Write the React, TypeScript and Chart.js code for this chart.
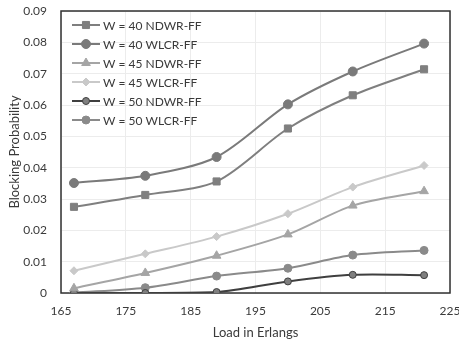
import React, { useEffect, useRef } from "react";
import { Chart, registerables } from "chart.js";
import { drawPoint } from "chart.js/helpers";

Chart.register(...registerables);

const loads = [167, 178, 189, 200, 210, 221];
const w40Ndwr = [0.0275, 0.0313, 0.0356, 0.0525, 0.0631, 0.0714];
const w40Wlcr = [0.0351, 0.0374, 0.0434, 0.0602, 0.0707, 0.0796];
const w45Ndwr = [0.0015, 0.0064, 0.0119, 0.0187, 0.0279, 0.0325];
const w45Wlcr = [0.0071, 0.0125, 0.018, 0.0253, 0.0338, 0.0407];
const w50Ndwr = [0.0, 0.0, 0.0003, 0.0037, 0.0058, 0.0057];
const w50Wlcr = [0.0001, 0.0017, 0.0054, 0.0079, 0.0121, 0.0136];
const seriesLabels = [
  "W = 40 NDWR-FF",
  "W = 40 WLCR-FF",
  "W = 45 NDWR-FF",
  "W = 45 WLCR-FF",
  "W = 50 NDWR-FF",
  "W = 50 WLCR-FF",
];
const xTitle = "Load in Erlangs";
const yTitle = "Blocking Probability";

const FONT = "Lato, 'Open Sans', sans-serif";
const TEXT = "#3a3a3a";

const legendPlugin = {
  id: "innerLegend",
  afterDraw(chart: any) {
    const { ctx, chartArea } = chart;
    ctx.save();
    chart.data.datasets.forEach((ds: any, i: number) => {
      const y = chartArea.top + 14 + i * 19;
      const x1 = chartArea.left + 11;
      const x2 = chartArea.left + 39;
      ctx.strokeStyle = ds.borderColor;
      ctx.lineWidth = ds.borderWidth;
      ctx.beginPath();
      ctx.moveTo(x1, y);
      ctx.lineTo(x2, y);
      ctx.stroke();
      ctx.fillStyle = ds.pointBackgroundColor;
      ctx.strokeStyle = ds.pointBorderColor;
      ctx.lineWidth = 1;
      drawPoint(ctx, { pointStyle: ds.pointStyle, rotation: 0, radius: ds.pointRadius, borderWidth: 1 }, (x1 + x2) / 2, y);
      ctx.fillStyle = TEXT;
      ctx.font = `12px ${FONT}`;
      ctx.textBaseline = "middle";
      ctx.textAlign = "left";
      ctx.fillText(ds.label, x2 + 3, y + 1);
    });
    ctx.restore();
  },
};

const framePlugin = {
  id: "frame",
  beforeDatasetsDraw(chart: any) {
    const { ctx, chartArea } = chart;
    ctx.save();
    ctx.strokeStyle = "#303030";
    ctx.lineWidth = 1.5;
    ctx.strokeRect(chartArea.left, chartArea.top, chartArea.right - chartArea.left, chartArea.bottom - chartArea.top);
    ctx.restore();
  },
};

export default function App() {
  const ref = useRef<HTMLCanvasElement>(null);
  useEffect(() => {
    document.body.style.margin = "0";
    const mk = (label: string, data: number[], color: string, style: string, r: number, pbg?: string) => ({
      label,
      data: data.map((v, i) => ({ x: loads[i], y: v })),
      borderColor: color,
      backgroundColor: pbg || color,
      pointBackgroundColor: pbg || color,
      pointBorderColor: color,
      pointStyle: style,
      pointRadius: r,
      pointBorderWidth: 1,
      borderWidth: 2,
      tension: 0.3,
    });
    const chart = new Chart(ref.current!, {
      type: "line",
      data: {
        datasets: [
          mk(seriesLabels[0], w40Ndwr, "#7f7f7f", "rect", 5),
          mk(seriesLabels[1], w40Wlcr, "#7a7a7a", "circle", 4.5),
          mk(seriesLabels[2], w45Ndwr, "#a5a5a5", "triangle", 5),
          mk(seriesLabels[3], w45Wlcr, "#c9c9c9", "rectRot", 4),
          mk(seriesLabels[4], w50Ndwr, "#3f3f3f", "circle", 3.5, "#7f7f7f"),
          mk(seriesLabels[5], w50Wlcr, "#8a8a8a", "circle", 4),
        ] as any,
      },
      options: {
        animation: false,
        responsive: false,
        layout: { padding: { top: 11, right: 9, left: 0, bottom: 0 } },
        plugins: { legend: { display: false }, tooltip: { enabled: false } },
        scales: {
          x: {
            type: "linear",
            min: 165,
            max: 225,
            afterFit: (s: any) => {
              s.height = 49;
              s.paddingLeft = 0;
              s.paddingRight = 0;
            },
            ticks: { stepSize: 10, color: TEXT, font: { family: FONT, size: 12 }, padding: 11, maxRotation: 0 },
            grid: { color: "#ececec", drawTicks: false },
            border: { display: false },
            title: { display: true, text: xTitle, color: TEXT, font: { family: FONT, size: 13 }, padding: { top: 0, bottom: 1 } },
          },
          y: {
            min: 0,
            max: 0.09,
            afterFit: (s: any) => {
              s.width = 61;
              s.paddingTop = 0;
              s.paddingBottom = 0;
            },
            ticks: {
              stepSize: 0.01,
              color: TEXT,
              font: { family: FONT, size: 12 },
              padding: 14,
              callback: (v: any) => (v === 0 ? "0" : Number(v).toFixed(2)),
            },
            grid: { color: "#ececec", drawTicks: false },
            border: { display: false },
            title: { display: true, text: yTitle, color: TEXT, font: { family: FONT, size: 13 }, padding: { top: 7, bottom: 0 } },
          },
        },
      },
      plugins: [framePlugin, legendPlugin],
    });
    return () => chart.destroy();
  }, []);
  return <canvas ref={ref} width={459} height={342} style={{ display: "block" }} />;
}
